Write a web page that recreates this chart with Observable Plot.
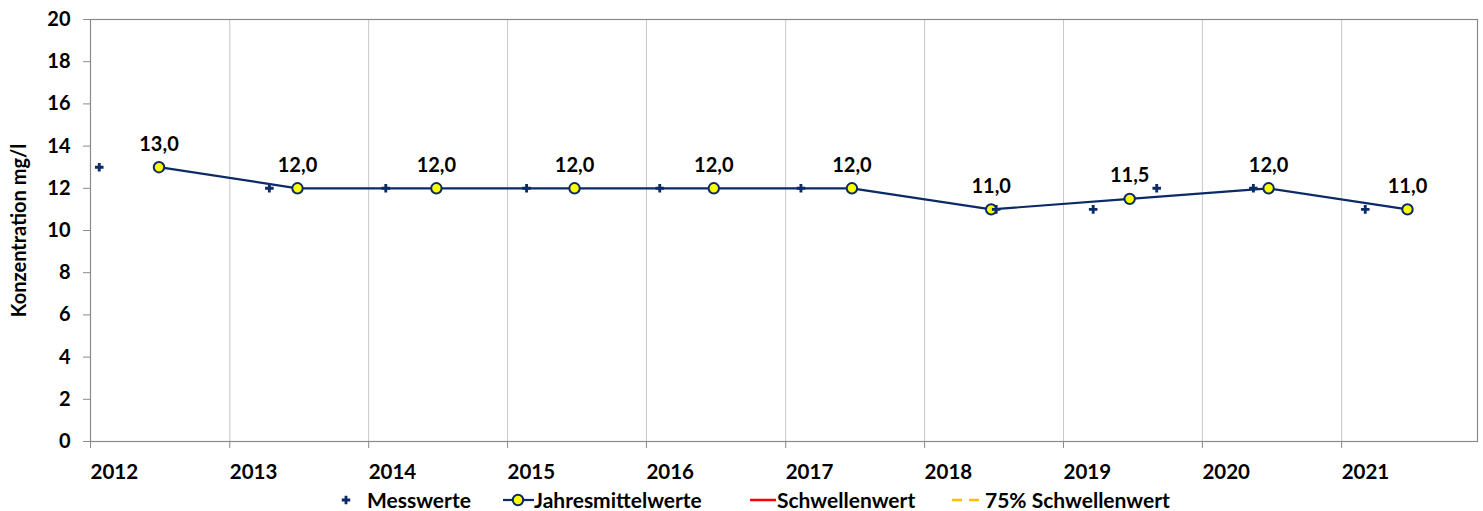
<!DOCTYPE html>
<html>
<head>
<meta charset="utf-8">
<script src="https://cdn.jsdelivr.net/npm/d3@7"></script>
<script src="https://cdn.jsdelivr.net/npm/@observablehq/plot@0.6"></script>
<style>
  html, body { margin: 0; padding: 0; background: #fff; }
  #chart { width: 1483px; font-family: Lato, "Open Sans", sans-serif; }
  .legend { position: relative; width: 1483px; height: 23px;
            font-family: Lato, sans-serif; font-weight: bold; font-size: 21px; color: #000; }
  .legend .sym { position: absolute; top: -8px; }
  .legend .txt { position: absolute; top: 0px; line-height: 24px; white-space: nowrap; }
  .legend svg { display: block; }
</style>
</head>
<body>
<div id="chart"></div>
<script>
// ---- data ----
const meanDates  = ["2012-06-29","2013-06-28","2014-06-28","2015-06-26","2016-06-26","2017-06-24","2018-06-25","2019-06-24","2020-06-23","2021-06-23"];
const meanValues = [13.0, 12.0, 12.0, 12.0, 12.0, 12.0, 11.0, 11.5, 12.0, 11.0];

const messDates  = ["2012-01-24","2013-04-15","2014-02-15","2015-02-20","2016-02-05","2017-02-10","2018-07-08","2019-03-20","2019-09-03","2020-05-14","2021-03-04"];
const messValues = [13, 12, 12, 12, 12, 12, 11, 11, 12, 12, 11];

const yTicks = [0, 2, 4, 6, 8, 10, 12, 14, 16, 18, 20];
const yearTicks = ["2012","2013","2014","2015","2016","2017","2018","2019","2020","2021"];

const legendLabels = ["Messwerte", "Jahresmittelwerte", "Schwellenwert", "75% Schwellenwert"];

// ---- build ----
const navy = "#0b2a66";
const yellow = "#ffff00";
const de = d3.formatLocale({decimal: ",", thousands: ".", grouping: [3], currency: ["", " €"]});
const fmt1 = de.format(".1f");

const meanData = meanDates.map((d, i) => ({date: new Date(d), value: meanValues[i]}));
const messData = messDates.map((d, i) => ({date: new Date(d), value: messValues[i]}));
const xTicks = yearTicks.map(y => new Date(y + "-01-01"));

const plot = Plot.plot({
  width: 1483,
  height: 488,
  marginTop: 19,
  marginBottom: 47,
  marginLeft: 90,
  marginRight: 6,
  style: {fontFamily: "Lato, 'Open Sans', sans-serif", fontWeight: "bold", fontSize: "20px", color: "#000", background: "#fff"},
  x: {type: "utc", domain: [new Date("2012-01-01"), new Date("2021-12-24")]},
  y: {domain: [0, 20]},
  marks: [
    Plot.gridX(xTicks, {stroke: "#c8c8c8", strokeOpacity: 1}),
    Plot.frame({stroke: "#8a8a8a", strokeWidth: 1.2}),
    Plot.axisY(yTicks, {tickSize: 7, tickPadding: 13, stroke: "#8a8a8a", fill: "#000", fontSize: 20, label: "Konzentration mg/l", labelAnchor: "center", labelOffset: 79, labelArrow: "none"}),
    Plot.axisX(xTicks, {tickSize: 7, tickPadding: 16, stroke: "#8a8a8a", fill: "#000", textAnchor: "start", tickFormat: d3.utcFormat("%Y"), fontSize: 20.5, label: null}),
    Plot.lineY(meanData, {x: "date", y: "value", stroke: navy, strokeWidth: 2.2}),
    Plot.dot(meanData, {x: "date", y: "value", r: 5.2, fill: yellow, stroke: navy, strokeWidth: 2}),
    Plot.dot(messData, {x: "date", y: "value", symbol: "cross", r: 3.6, fill: navy, stroke: "none"}),
    Plot.text(meanData, {x: "date", y: "value", text: d => fmt1(d.value), dy: -23, fontSize: 20, fontWeight: "bold", fill: "#000"})
  ]
});
document.getElementById("chart").appendChild(plot);

// legend
const legend = document.createElement("div");
legend.className = "legend";
const items = [
  {symLeft: 340, txtLeft: 367, svg: `<svg width="12" height="40"><path d="${d3.symbol(d3.symbolCross, 40)()}" transform="translate(6,20)" fill="${navy}"/></svg>`},
  {symLeft: 503, txtLeft: 534, svg: `<svg width="31" height="40"><line x1="0" y1="20" x2="31" y2="20" stroke="${navy}" stroke-width="2.2"/><circle cx="15" cy="20" r="5.2" fill="${yellow}" stroke="${navy}" stroke-width="2"/></svg>`},
  {symLeft: 750, txtLeft: 777, svg: `<svg width="26" height="40"><line x1="0" y1="20" x2="26" y2="20" stroke="#ff0000" stroke-width="2.5"/></svg>`},
  {symLeft: 952, txtLeft: 985, svg: `<svg width="30" height="40"><line x1="0" y1="20" x2="29" y2="20" stroke="#ffc000" stroke-width="2.5" stroke-dasharray="10,7"/></svg>`}
];
items.forEach((it, i) => {
  const s = document.createElement("div");
  s.className = "sym";
  s.style.left = it.symLeft + "px";
  s.innerHTML = it.svg;
  legend.appendChild(s);
  const t = document.createElement("div");
  t.className = "txt";
  t.style.left = it.txtLeft + "px";
  t.textContent = legendLabels[i];
  legend.appendChild(t);
});
document.getElementById("chart").appendChild(legend);
</script>
</body>
</html>
